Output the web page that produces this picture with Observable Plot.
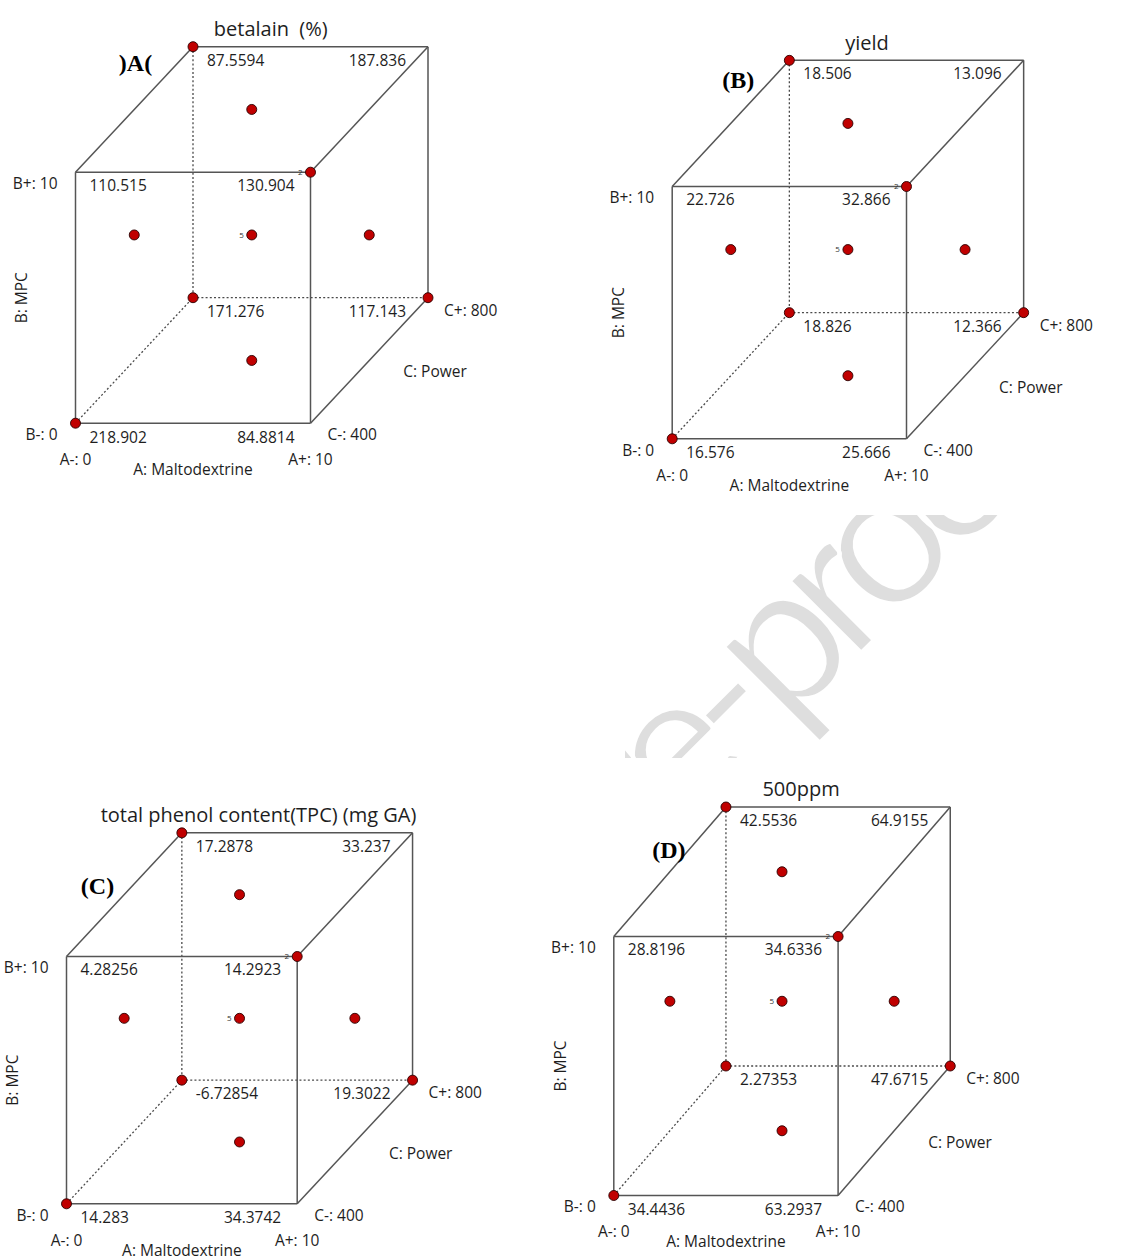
<!DOCTYPE html>
<html><head><meta charset="utf-8">
<script src="https://cdn.jsdelivr.net/npm/d3@7"></script>
<script src="https://cdn.jsdelivr.net/npm/@observablehq/plot@0.6"></script>
<style>
html,body{margin:0;padding:0;background:#fff;}
#page{position:relative;width:1143px;height:1260px;overflow:hidden;background:#fff;}
.panel{position:absolute;}
.panel svg{background:transparent !important;overflow:visible;}
#wm{position:absolute;left:0;top:0;pointer-events:none;}
</style></head><body><div id="page"></div>
<script>
// ---- data ----
const titles = ["betalain  (%)", "yield", "total phenol content(TPC) (mg GA)", "500ppm"];
const tags = [")A(", "(B)", "(C)", "(D)"];
// corners: A,B,C signs
const cornerCodes = ["---", "+--", "-+-", "++-", "--+", "+-+", "-++", "+++"];
const betalain = [218.902, 84.8814, 110.515, 130.904, 171.276, 117.143, 87.5594, 187.836];
const yieldVals = [16.576, 25.666, 22.726, 32.866, 18.826, 12.366, 18.506, 13.096];
const tpc = [14.283, 34.3742, 4.28256, 14.2923, -6.72854, 19.3022, 17.2878, 33.237];
const ppm500 = [34.4436, 63.2937, 28.8196, 34.6336, 2.27353, 47.6715, 42.5536, 64.9155];
const factorNames = ["A: Maltodextrine", "B: MPC", "C: Power"];
const factorKeys = ["A", "B", "C"];
const factorLow = [0, 0, 400];
const factorHigh = [10, 10, 800];
// design points (coded a,b,c) and replicate counts
const designA = [-1, 1, -1, -1, 1, 0, -1, 0, 1, 0];
const designB = [-1, 1, 1, -1, -1, 1, 0, 0, 0, -1];
const designC = [-1, -1, 1, 1, 1, 0, 0, 0, 0, 0];
const designN = [1, 2, 1, 1, 1, 1, 1, 5, 1, 1];
const solidEdges = [["---","+--"],["-+-","++-"],["---","-+-"],["+--","++-"],["-++","+++"],["+++","+-+"],["-+-","-++"],["++-","+++"],["+--","+-+"]];
const hiddenEdges = [["-++","--+"],["--+","+-+"],["---","--+"]];
const panelValues = [betalain, yieldVals, tpc, ppm500];

// ---- layout ----
const layout = [
  {left:0,   top:0,   w:571, h:505, x0:75,    y0:422.7,  W:235,   H:251,   tag:[60,7]},
  {left:571, top:0,   w:572, h:505, x0:671.7, y0:438.3,  W:234.3, H:252.3, tag:[66,11]},
  {left:0,   top:760, w:571, h:500, x0:66,    y0:1203.3, W:230.7, H:247.3, tag:[31,44]},
  {left:571, top:760, w:572, h:500, x0:613.3, y0:1195,   W:224.3, H:259,   tag:[55,33.5]}
];
const cornerLabelStyle = {
  "---":{anchor:"start",dx:14,dy:14.5}, "+--":{anchor:"end",dx:-16,dy:14.5},
  "-+-":{anchor:"start",dx:14,dy:13.5}, "++-":{anchor:"end",dx:-16,dy:13.5},
  "--+":{anchor:"start",dx:14,dy:14},   "+-+":{anchor:"end",dx:-22,dy:14},
  "-++":{anchor:"start",dx:14,dy:14},   "+++":{anchor:"end",dx:-22,dy:14}
};
const decode = s => [...s].map(ch => ch === "+" ? 1 : -1);
const px = (a, c) => (a + 1) / 2 + (c + 1) / 4;
const py = (b, c) => (b + 1) / 2 + (c + 1) / 4;

const page = document.getElementById("page");
const LINE = "#555";
const TXT = "#1e1e1e";

layout.forEach((L, i) => {
  const vals = panelValues[i];
  const edgeData = (list) => list.map(([p, q]) => { const u = decode(p), v = decode(q); return {x1: px(u[0],u[2]), y1: py(u[1],u[2]), x2: px(v[0],v[2]), y2: py(v[1],v[2])}; });
  const points = designA.map((a, k) => ({a, b: designB[k], c: designC[k], n: designN[k]}));
  const corners = cornerCodes.map((cc, k) => { const u = decode(cc); return {cc, a:u[0], b:u[1], c:u[2], v: vals[k]}; });
  const fl = (lab, a, b, c, opts) => Plot.text([lab], {x: () => px(a, c), y: () => py(b, c), text: d => d, fill: TXT, ...opts});
  const marks = [
    Plot.link(edgeData(hiddenEdges), {x1:"x1", y1:"y1", x2:"x2", y2:"y2", stroke: "#4a4a4a", strokeWidth: 1.3, strokeDasharray: "2,2.2"}),
    Plot.link(edgeData(solidEdges), {x1:"x1", y1:"y1", x2:"x2", y2:"y2", stroke: LINE, strokeWidth: 1.5}),
    ...corners.map(d => { const s = cornerLabelStyle[d.cc]; return Plot.text([d], {x: d => px(d.a, d.c), y: d => py(d.b, d.c), text: d => String(d.v), textAnchor: s.anchor, dx: s.dx, dy: s.dy, fill: TXT, stroke: "white", strokeWidth: 4, paintOrder: "stroke"}); }),
    Plot.dot(points, {x: d => px(d.a, d.c), y: d => py(d.b, d.c), r: 5, fill: "#c00000", stroke: "#2a0000", strokeWidth: 0.9}),
    Plot.text(points.filter(d => d.n > 1), {x: d => px(d.a, d.c), y: d => py(d.b, d.c), text: d => String(d.n), textAnchor: "end", dx: -8, fontSize: 8, fill: "#333"}),
    // factor level labels
    fl(`${factorKeys[1]}+: ${factorHigh[1]}`, -1, 1, -1, {textAnchor: "end", dx: -18, dy: 12}),
    fl(`${factorKeys[1]}-: ${factorLow[1]}`, -1, -1, -1, {textAnchor: "end", dx: -18, dy: 12}),
    fl(`${factorKeys[0]}-: ${factorLow[0]}`, -1, -1, -1, {dy: 37}),
    fl(`${factorKeys[0]}+: ${factorHigh[0]}`, 1, -1, -1, {dy: 37}),
    fl(factorNames[0], 0, -1, -1, {dy: 47}),
    fl(`${factorKeys[2]}-: ${factorLow[2]}`, 1, -1, -1, {textAnchor: "start", dx: 17, dy: 12}),
    fl(`${factorKeys[2]}+: ${factorHigh[2]}`, 1, -1, 1, {textAnchor: "start", dx: 16, dy: 13}),
    fl(factorNames[2], 1, -1, 0, {textAnchor: "start", dx: 34, dy: 12}),
    fl(factorNames[1], -1, 0, -1, {rotate: -90, dx: -53}),
    Plot.text([titles[i]], {frameAnchor: "top", dx: 19, dy: -25, fontSize: 20, fill: TXT}),
    Plot.text([tags[i]], {frameAnchor: "top-left", dx: L.tag[0], dy: L.tag[1], textAnchor: "middle", fontSize: 24, fontWeight: "bold", fontFamily: "'Liberation Serif', 'Times New Roman', serif", fill: "#000"})
  ];
  const chart = Plot.plot({
    width: L.w, height: L.h,
    marginLeft: L.x0 - L.left,
    marginRight: L.left + L.w - (L.x0 + 1.5 * L.W),
    marginTop: (L.y0 - 1.5 * L.H) - L.top,
    marginBottom: L.top + L.h - L.y0,
    x: {domain: [0, 1.5], axis: null},
    y: {domain: [0, 1.5], axis: null},
    style: {fontFamily: "'Open Sans', 'Noto Sans', sans-serif", fontSize: "15.5px", background: "transparent", overflow: "visible"},
    marks
  });
  const div = document.createElement("div");
  div.className = "panel";
  div.style.left = L.left + "px";
  div.style.top = L.top + "px";
  div.appendChild(chart);
  page.appendChild(div);
});

// watermark (partially visible between the panels)
const ns = "http://www.w3.org/2000/svg";
const wm = document.createElementNS(ns, "svg");
wm.setAttribute("id", "wm"); wm.setAttribute("width", 1143); wm.setAttribute("height", 1260);
wm.innerHTML = `<defs><clipPath id="wmclip"><rect x="625" y="515" width="518" height="243"/></clipPath></defs>
<g clip-path="url(#wmclip)" font-family="Lato, 'Open Sans', sans-serif" font-size="200" fill="#dedede" stroke="#ffffff" stroke-width="4">
<text transform="translate(781,733) rotate(-45)" text-anchor="end" letter-spacing="-19">Journal Pre-</text>
<text transform="translate(785.5,728.5) rotate(-45)" text-anchor="start" letter-spacing="-19">proof</text></g>`;
page.appendChild(wm);
</script></body></html>
